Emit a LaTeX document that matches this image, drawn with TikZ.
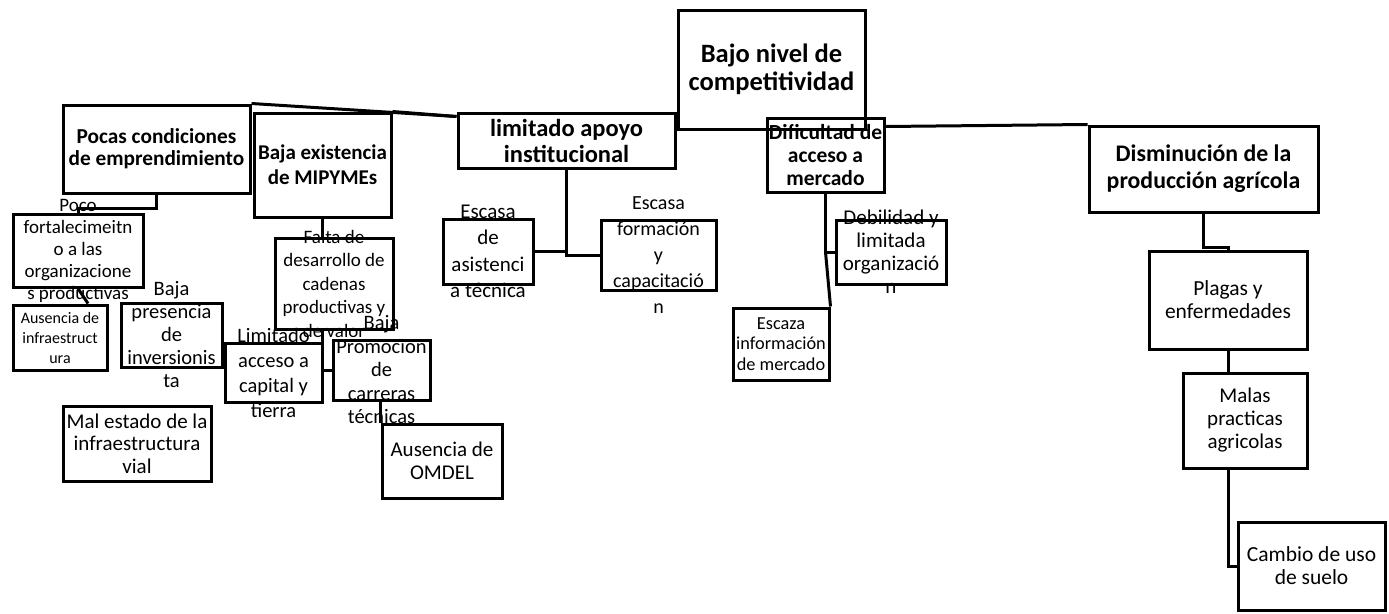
\documentclass[tikz,border=0pt]{standalone}
\usepackage{fontspec}
\setmainfont{Carlito}
\usepackage{tikz}
\usetikzlibrary{calc}
\tikzstyle{caja}=[draw, line width=3pt, inner sep=0pt]
\tikzstyle{texto}=[align=center, inner sep=0pt]
\tikzstyle{linea}=[line width=3pt]

\begin{document}
\begin{tikzpicture}[x=1pt, y=-1pt]
    \useasboundingbox (0,0) rectangle (1389,613);

    %boxes
    \node [caja, minimum width=187pt, minimum height=119pt] (bajo) at (771.5,69.5) {};
    \node [texto, font=\bfseries\fontsize{26.5}{28}\selectfont] (bajo-t) at (bajo.center) {Bajo nivel de\\competitividad};
    \node [caja, minimum width=217pt, minimum height=55pt] (lim) at (566.5,140.5) {};
    \node [texto, font=\bfseries\fontsize{24.5}{26}\selectfont] (lim-t) at (lim.center) {limitado apoyo\\institucional};
    \node [caja, minimum width=117pt, minimum height=74pt] (dif) at (825.5,155) {};
    \node [texto, font=\bfseries\fontsize{21.5}{23}\selectfont] (dif-t) at (dif.center) {Dificultad de\\acceso a\\mercado};
    \node [caja, minimum width=229pt, minimum height=86pt] (dism) at (1203.5,169) {};
    \node [texto, font=\bfseries\fontsize{23.8}{27}\selectfont] (dism-t) at (dism.center) {Disminución de la\\producción agrícola};
    \node [caja, minimum width=158pt, minimum height=98pt] (plagas) at (1228,300) {};
    \node [texto, font=\fontsize{21.5}{23}\selectfont] (plagas-t) at (plagas.center) {Plagas y\\enfermedades};
    \node [caja, minimum width=124pt, minimum height=95pt] (malas) at (1245,420.5) {};
    \node [texto, font=\fontsize{21}{23}\selectfont] (malas-t) at (malas.center) {Malas\\practicas\\agricolas};
    \node [caja, minimum width=147pt, minimum height=88pt] (cambio) at (1311.5,566) {};
    \node [texto, font=\fontsize{21.5}{23}\selectfont] (cambio-t) at (cambio.center) {Cambio de uso\\de suelo};
    \node [caja, minimum width=187pt, minimum height=88pt] (pocas) at (156.5,149) {};
    \node [texto, font=\bfseries\fontsize{21.3}{22}\selectfont] (pocas-t) at (pocas.center) {Pocas condiciones\\de emprendimiento};
    \node [caja, minimum width=137pt, minimum height=104pt] (mipy) at (322.5,165) {};
    \node [texto, font=\bfseries\fontsize{21}{25}\selectfont] (mipy-t) at (mipy.center) {Baja existencia\\de MIPYMEs};
    \node [caja, minimum width=130pt, minimum height=73pt] (poco) at (78,250.5) {};
    \node [texto, font=\fontsize{19}{22}\selectfont] (poco-t) at (poco.center) {Poco\\fortalecimeitn\\o a las\\organizacione\\s productivas};
    \node [caja, minimum width=94pt, minimum height=65pt] (ausinf) at (60,337.5) {};
    \node [texto, font=\fontsize{16}{20}\selectfont] (ausinf-t) at (ausinf.center) {Ausencia de\\infraestruct\\ura};
    \node [caja, minimum width=101pt, minimum height=64pt] (inver) at (171.5,335) {};
    \node [texto, font=\fontsize{20.5}{23}\selectfont] (inver-t) at (inver.center) {Baja\\presencia\\de\\inversionis\\ta};
    \node [caja, minimum width=148pt, minimum height=75pt] (vial) at (137,443.5) {};
    \node [texto, font=\fontsize{21}{22.5}\selectfont] (vial-t) at (vial.center) {Mal estado de la\\infraestructura\\vial};
    \node [caja, minimum width=118pt, minimum height=91pt] (falta) at (334,283.5) {};
    \node [texto, font=\fontsize{19}{23.5}\selectfont] (falta-t) at (falta.center) {Falta de\\desarrollo de\\cadenas\\productivas y\\de valor};
    \node [caja, minimum width=97pt, minimum height=59pt] (capital) at (273.5,372.5) {};
    \node [texto, font=\fontsize{20.5}{25}\selectfont] (capital-t) at (capital.center) {Limitado\\acceso a\\capital y\\tierra};
    \node [caja, minimum width=97pt, minimum height=60pt] (promo) at (381.5,370) {};
    \node [texto, font=\fontsize{20.5}{23.5}\selectfont] (promo-t) at (promo.center) {Baja\\Promoción\\de\\carreras\\técnicas};
    \node [caja, minimum width=120pt, minimum height=74pt] (omdel) at (442,461) {};
    \node [texto, font=\fontsize{21}{23}\selectfont] (omdel-t) at (omdel.center) {Ausencia de\\OMDEL};
    \node [caja, minimum width=90pt, minimum height=65pt] (asist) at (488,251.5) {};
    \node [texto, font=\fontsize{21}{26.5}\selectfont] (asist-t) at (asist.center) {Escasa\\de\\asistenci\\a técnica};
    \node [caja, minimum width=115pt, minimum height=70pt] (formac) at (658.5,255) {};
    \node [texto, font=\fontsize{20}{26}\selectfont] (formac-t) at (formac.center) {Escasa\\formación\\y\\capacitació\\n};
    \node [caja, minimum width=110pt, minimum height=64pt] (debil) at (891,252) {};
    \node [texto, font=\fontsize{21}{23}\selectfont] (debil-t) at (debil.center) {Debilidad y\\limitada\\organizació\\n};
    \node [caja, minimum width=96pt, minimum height=72pt] (escinf) at (781,344) {};
    \node [texto, font=\fontsize{18.3}{20.5}\selectfont] (escinf-t) at (escinf.center) {Escaza\\información\\de mercado};

    %connectors
    \draw [linea] (pocas.north east) -- ($(lim.north west)+(0,5)$);
    \draw [linea] (mipy.north east) -- ($(lim.north west)+(0,5)$);
    \draw [linea] ($(dif.north east)+(0,10)$) -- (dism.north west);
    \draw [linea] (lim.south) |- (formac.west);
    \draw [linea] (asist.east) -- (asist.east -| lim.south);
    \draw [linea] (dif.south) |- (debil.west);
    \draw [linea] (dif.south |- debil.west) -- (escinf.north east);
    \draw [linea] (mipy.south) -- (mipy.south |- falta.north);
    \draw [linea] (mipy.south |- falta.south) |- (promo.west);
    \draw [linea] (omdel.north west) -- (omdel.north west |- promo.south);
    \draw [linea] (pocas.south) -- ++(0,14) -| (poco.north);
    \draw [linea] (poco.south) -- ($(ausinf.north)+(28,0)$);
    \draw [linea] (dism.south) -- ++(0,34) -| (plagas.north);
    \draw [linea] (plagas.south) -- (plagas.south |- malas.north);
    \draw [linea] (plagas.south |- malas.south) |- (cambio.west);

\end{tikzpicture}
\end{document}
